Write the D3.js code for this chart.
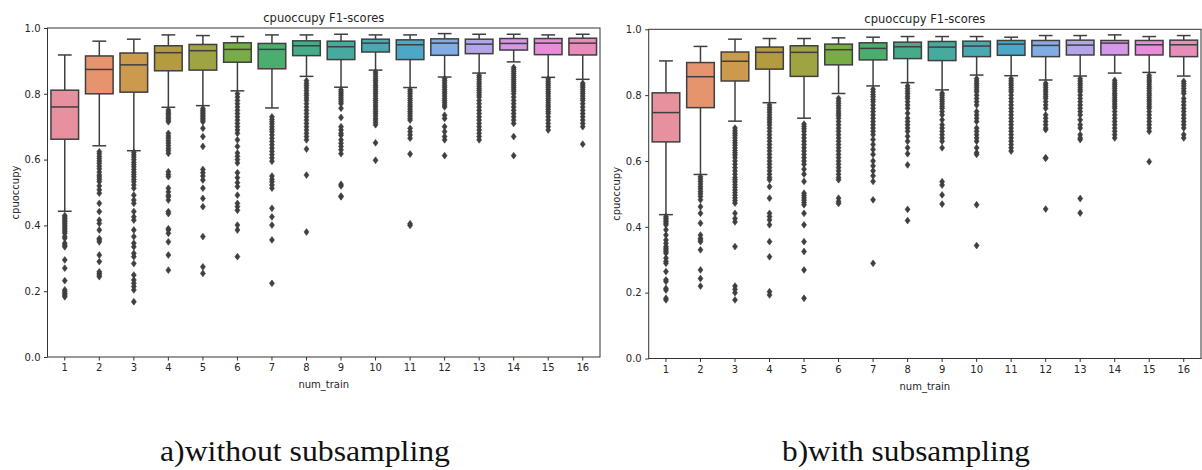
<!DOCTYPE html>
<html>
<head>
<meta charset="utf-8">
<script src="https://cdn.jsdelivr.net/npm/d3@7"></script>
<style>
  html, body { margin: 0; padding: 0; background: #fff; }
  svg { display: block; }
</style>
</head>
<body>
<div id="chart"></div>
<script>
// num_train categories, shared by both panels
const categories = ["1","2","3","4","5","6","7","8","9","10","11","12","13","14","15","16"];
const yTicks = [0, 0.2, 0.4, 0.6, 0.8, 1.0];

// a) without subsampling
const aWhiskHi = [0.918,0.960,0.966,0.979,0.977,0.974,0.979,0.979,0.981,0.979,0.979,0.983,0.981,0.981,0.979,0.981];
const aQ3      = [0.811,0.915,0.924,0.946,0.950,0.955,0.953,0.961,0.960,0.966,0.964,0.967,0.966,0.968,0.968,0.969];
const aMedian  = [0.760,0.874,0.888,0.925,0.931,0.935,0.935,0.946,0.943,0.954,0.949,0.954,0.951,0.953,0.954,0.954];
const aQ1      = [0.662,0.800,0.805,0.870,0.872,0.896,0.876,0.916,0.904,0.927,0.904,0.917,0.922,0.933,0.919,0.918];
const aWhiskLo = [0.443,0.642,0.627,0.759,0.764,0.809,0.757,0.853,0.820,0.872,0.819,0.851,0.863,0.897,0.850,0.844];
const aOutliers = [
  [0.43,0.426,0.421,0.416,0.411,0.406,0.401,0.396,0.391,0.386,0.381,0.376,0.366,0.361,0.346,0.340,0.335,0.295,0.270,0.232,0.204,0.198,0.193,0.188,0.183],
  [0.624,0.618,0.610,0.603,0.596,0.589,0.580,0.572,0.562,0.553,0.547,0.540,0.533,0.520,0.508,0.498,0.467,0.442,0.416,0.406,0.386,0.360,0.356,0.350,0.310,0.290,0.259,0.254,0.249,0.244],
  [0.622,0.615,0.608,0.600,0.592,0.585,0.578,0.570,0.562,0.555,0.548,0.540,0.533,0.523,0.513,0.492,0.477,0.467,0.442,0.426,0.416,0.386,0.366,0.346,0.335,0.315,0.305,0.284,0.249,0.234,0.224,0.214,0.204,0.168],
  [0.751,0.745,0.740,0.736,0.730,0.725,0.720,0.715,0.680,0.672,0.665,0.657,0.650,0.642,0.634,0.627,0.619,0.563,0.555,0.548,0.513,0.502,0.492,0.487,0.477,0.442,0.436,0.390,0.386,0.376,0.350,0.310,0.264],
  [0.755,0.750,0.745,0.740,0.735,0.730,0.725,0.720,0.715,0.695,0.670,0.640,0.570,0.560,0.550,0.538,0.513,0.482,0.457,0.366,0.274,0.254],
  [0.800,0.790,0.780,0.770,0.760,0.750,0.740,0.730,0.720,0.710,0.700,0.690,0.680,0.660,0.640,0.620,0.610,0.600,0.590,0.560,0.545,0.530,0.518,0.492,0.467,0.457,0.446,0.401,0.386,0.305],
  [0.730,0.722,0.715,0.708,0.700,0.692,0.685,0.675,0.665,0.655,0.645,0.635,0.625,0.615,0.605,0.595,0.550,0.540,0.533,0.523,0.513,0.452,0.426,0.401,0.356,0.224],
  [0.840,0.832,0.825,0.818,0.810,0.802,0.795,0.787,0.780,0.770,0.760,0.750,0.740,0.730,0.720,0.710,0.700,0.690,0.680,0.670,0.660,0.632,0.553,0.380],
  [0.812,0.806,0.800,0.794,0.788,0.782,0.776,0.770,0.756,0.728,0.700,0.690,0.680,0.674,0.660,0.650,0.640,0.630,0.618,0.525,0.520,0.489,0.487],
  [0.866,0.860,0.853,0.846,0.840,0.833,0.826,0.820,0.813,0.806,0.800,0.793,0.786,0.780,0.773,0.766,0.760,0.753,0.746,0.740,0.733,0.726,0.720,0.713,0.706,0.651,0.598],
  [0.812,0.806,0.800,0.793,0.786,0.780,0.773,0.766,0.760,0.753,0.746,0.740,0.733,0.726,0.720,0.695,0.685,0.675,0.665,0.617,0.405,0.400],
  [0.846,0.840,0.833,0.826,0.820,0.813,0.806,0.800,0.793,0.786,0.780,0.773,0.766,0.760,0.735,0.725,0.700,0.685,0.670,0.660,0.612],
  [0.856,0.850,0.843,0.836,0.830,0.823,0.816,0.810,0.803,0.796,0.790,0.780,0.770,0.760,0.750,0.740,0.730,0.720,0.710,0.700,0.690,0.680,0.670,0.660],
  [0.880,0.874,0.868,0.862,0.856,0.850,0.844,0.838,0.832,0.826,0.820,0.814,0.808,0.800,0.790,0.780,0.770,0.760,0.750,0.740,0.730,0.720,0.710,0.670,0.612],
  [0.845,0.838,0.832,0.826,0.820,0.813,0.806,0.800,0.793,0.786,0.780,0.773,0.766,0.760,0.753,0.746,0.740,0.730,0.720,0.710,0.700,0.690],
  [0.832,0.826,0.820,0.813,0.806,0.800,0.793,0.786,0.780,0.770,0.760,0.750,0.740,0.730,0.720,0.710,0.700,0.647]
];

// b) with subsampling
const bWhiskHi = [0.904,0.948,0.970,0.972,0.972,0.974,0.976,0.978,0.978,0.978,0.976,0.981,0.981,0.983,0.978,0.981];
const bQ3      = [0.807,0.899,0.931,0.946,0.950,0.955,0.959,0.961,0.963,0.964,0.966,0.966,0.967,0.966,0.966,0.967];
const bMedian  = [0.747,0.856,0.903,0.930,0.930,0.938,0.942,0.947,0.946,0.949,0.955,0.951,0.952,0.958,0.953,0.953];
const bQ1      = [0.658,0.762,0.843,0.879,0.857,0.892,0.907,0.911,0.905,0.917,0.921,0.917,0.922,0.922,0.922,0.917];
const bWhiskLo = [0.437,0.559,0.721,0.777,0.730,0.805,0.828,0.838,0.816,0.861,0.859,0.846,0.858,0.867,0.869,0.858];
const bOutliers = [
  [0.431,0.426,0.421,0.416,0.411,0.406,0.391,0.375,0.360,0.350,0.340,0.335,0.330,0.325,0.320,0.305,0.295,0.289,0.264,0.239,0.234,0.213,0.208,0.183,0.178],
  [0.552,0.545,0.538,0.530,0.522,0.515,0.507,0.500,0.492,0.482,0.461,0.441,0.411,0.375,0.365,0.360,0.355,0.330,0.269,0.243,0.220],
  [0.700,0.692,0.685,0.678,0.670,0.662,0.655,0.648,0.640,0.632,0.625,0.618,0.610,0.600,0.590,0.580,0.570,0.560,0.550,0.543,0.536,0.528,0.520,0.512,0.504,0.496,0.488,0.480,0.472,0.441,0.425,0.415,0.340,0.220,0.210,0.200,0.178],
  [0.770,0.762,0.755,0.748,0.740,0.732,0.725,0.718,0.710,0.700,0.690,0.680,0.670,0.660,0.650,0.640,0.630,0.620,0.610,0.600,0.590,0.580,0.570,0.560,0.550,0.543,0.522,0.487,0.441,0.431,0.421,0.406,0.355,0.309,0.203,0.193],
  [0.712,0.705,0.698,0.690,0.680,0.670,0.660,0.650,0.640,0.630,0.620,0.610,0.600,0.590,0.575,0.560,0.538,0.502,0.495,0.488,0.481,0.474,0.467,0.441,0.406,0.355,0.325,0.269,0.183],
  [0.790,0.782,0.775,0.768,0.760,0.752,0.745,0.738,0.730,0.720,0.710,0.700,0.690,0.680,0.670,0.660,0.650,0.640,0.630,0.620,0.610,0.600,0.590,0.580,0.570,0.560,0.550,0.543,0.487,0.477,0.471],
  [0.818,0.810,0.802,0.795,0.787,0.780,0.770,0.760,0.750,0.740,0.730,0.720,0.710,0.700,0.690,0.680,0.665,0.650,0.635,0.620,0.600,0.585,0.570,0.555,0.538,0.482,0.289],
  [0.828,0.820,0.812,0.805,0.797,0.790,0.780,0.770,0.760,0.745,0.730,0.720,0.710,0.700,0.690,0.675,0.660,0.640,0.622,0.588,0.453,0.419],
  [0.806,0.800,0.793,0.786,0.780,0.773,0.766,0.760,0.750,0.740,0.725,0.710,0.700,0.690,0.680,0.670,0.660,0.640,0.537,0.527,0.497,0.469],
  [0.850,0.843,0.836,0.830,0.823,0.816,0.810,0.800,0.790,0.780,0.770,0.750,0.740,0.730,0.720,0.700,0.690,0.680,0.670,0.660,0.640,0.625,0.620,0.467,0.343],
  [0.850,0.843,0.836,0.830,0.823,0.816,0.810,0.800,0.790,0.780,0.770,0.760,0.750,0.740,0.730,0.720,0.710,0.700,0.690,0.680,0.670,0.660,0.650,0.640,0.630],
  [0.836,0.830,0.823,0.816,0.810,0.803,0.796,0.790,0.780,0.770,0.760,0.740,0.730,0.720,0.710,0.700,0.695,0.610,0.608,0.454],
  [0.850,0.843,0.836,0.830,0.823,0.816,0.810,0.800,0.790,0.780,0.770,0.760,0.750,0.740,0.725,0.710,0.700,0.680,0.670,0.665,0.486,0.442],
  [0.845,0.838,0.832,0.826,0.820,0.813,0.806,0.800,0.793,0.786,0.780,0.773,0.766,0.760,0.750,0.740,0.730,0.720,0.710,0.700,0.690,0.680,0.670],
  [0.860,0.853,0.846,0.840,0.833,0.826,0.820,0.813,0.806,0.800,0.793,0.786,0.780,0.773,0.766,0.760,0.750,0.740,0.730,0.720,0.710,0.700,0.690,0.598],
  [0.842,0.835,0.828,0.820,0.812,0.805,0.790,0.780,0.770,0.760,0.750,0.740,0.730,0.720,0.710,0.700,0.680,0.670]
];

// seaborn-like husl palette (desaturated)
const palette = ["#e8919e","#e6946e","#cc9a4c","#b49b3e","#9ea441","#78ac44","#4aae6e","#46ab8b","#47aa9e","#49a9b1","#4ca8c8","#82ace4","#b3a5e8","#d797e8","#e98cd9","#e98cb9"];

const W = 1202, H = 470;
const lineColor = "#3f3f3f";
const textColor = "#262626";

const svg = d3.select("#chart").append("svg")
  .attr("width", W).attr("height", H)
  .attr("font-family", "'DejaVu Sans', sans-serif");

function drawPanel(p) {
  const x = d3.scaleBand().domain(categories).range([p.left, p.right]);
  const y = d3.scaleLinear().domain([0, 1]).range([p.bottom, p.top]);
  const g = svg.append("g");
  const boxW = x.bandwidth() * 0.8;
  const capW = boxW * 0.5;

  const rows = categories.map((c, i) => ({
    c, i, hi: p.hi[i], q3: p.q3[i], med: p.med[i], q1: p.q1[i], lo: p.lo[i], out: p.out[i]
  }));

  const box = g.selectAll(".box").data(rows).enter().append("g").attr("class", "box")
    .attr("transform", d => `translate(${x(d.c) + x.bandwidth() / 2},0)`);

  // whiskers + caps
  box.append("line").attr("x1", 0).attr("x2", 0)
    .attr("y1", d => y(d.q3)).attr("y2", d => y(d.hi))
    .attr("stroke", lineColor).attr("stroke-width", 1.5);
  box.append("line").attr("x1", 0).attr("x2", 0)
    .attr("y1", d => y(d.q1)).attr("y2", d => y(d.lo))
    .attr("stroke", lineColor).attr("stroke-width", 1.5);
  box.append("line").attr("x1", -capW / 2).attr("x2", capW / 2)
    .attr("y1", d => y(d.hi)).attr("y2", d => y(d.hi))
    .attr("stroke", lineColor).attr("stroke-width", 1.5);
  box.append("line").attr("x1", -capW / 2).attr("x2", capW / 2)
    .attr("y1", d => y(d.lo)).attr("y2", d => y(d.lo))
    .attr("stroke", lineColor).attr("stroke-width", 1.5);

  // boxes
  box.append("rect")
    .attr("x", -boxW / 2).attr("width", boxW)
    .attr("y", d => y(d.q3)).attr("height", d => y(d.q1) - y(d.q3))
    .attr("fill", d => palette[d.i])
    .attr("stroke", lineColor).attr("stroke-width", 1.5);
  box.append("line").attr("x1", -boxW / 2).attr("x2", boxW / 2)
    .attr("y1", d => y(d.med)).attr("y2", d => y(d.med))
    .attr("stroke", lineColor).attr("stroke-width", 1.5);

  // outliers (thin diamonds)
  box.selectAll(".flier").data(d => d.out).enter().append("path")
    .attr("class", "flier")
    .attr("d", "M0,-3.4L2.5,0L0,3.4L-2.5,0Z")
    .attr("transform", v => `translate(0,${y(v)})`)
    .attr("fill", lineColor).attr("stroke", lineColor).attr("stroke-width", 0.6);

  // axes
  const xAxis = g.append("g").attr("transform", `translate(0,${p.bottom})`)
    .call(d3.axisBottom(x).tickSize(3.5).tickPadding(3.5));
  const yAxis = g.append("g").attr("transform", `translate(${p.left},0)`)
    .call(d3.axisLeft(y).tickValues(yTicks).tickFormat(d3.format(".1f")).tickSize(3.5).tickPadding(3.5));
  [xAxis, yAxis].forEach(a => {
    a.select(".domain").remove();
    a.selectAll("line").attr("stroke", "#333");
    a.selectAll("text").attr("fill", textColor).attr("font-size", 10)
      .attr("font-family", "'DejaVu Sans', sans-serif");
  });

  // frame
  g.append("rect").attr("x", p.left).attr("y", p.top)
    .attr("width", p.right - p.left).attr("height", p.bottom - p.top)
    .attr("fill", "none").attr("stroke", "#333").attr("stroke-width", 1);

  g.append("text").attr("x", (p.left + p.right) / 2).attr("y", p.top - 6)
    .attr("text-anchor", "middle").attr("font-size", 12.5).attr("fill", textColor)
    .attr("textLength", 121).attr("lengthAdjust", "spacingAndGlyphs")
    .text("cpuoccupy F1-scores");
  g.append("text").attr("x", (p.left + p.right) / 2).attr("y", p.bottom + 31)
    .attr("text-anchor", "middle").attr("font-size", 10).attr("fill", textColor)
    .text("num_train");
  g.append("text")
    .attr("transform", `translate(${p.left - 29},${(p.top + p.bottom) / 2}) rotate(-90)`)
    .attr("text-anchor", "middle").attr("font-size", 10).attr("fill", textColor)
    .text("cpuoccupy");

  svg.append("text").attr("x", p.capX).attr("y", 461)
    .attr("text-anchor", "middle")
    .attr("font-family", "'Liberation Serif', 'DejaVu Serif', serif")
    .attr("font-size", 30).attr("fill", "#111")
    .attr("textLength", p.capW).attr("lengthAdjust", "spacingAndGlyphs")
    .text(p.caption);
}

drawPanel({ left: 47.5, right: 600, top: 28, bottom: 357,
  hi: aWhiskHi, q3: aQ3, med: aMedian, q1: aQ1, lo: aWhiskLo, out: aOutliers,
  caption: "a)without subsampling", capX: 305, capW: 290 });
drawPanel({ left: 648.7, right: 1201, top: 29.3, bottom: 358.5,
  hi: bWhiskHi, q3: bQ3, med: bMedian, q1: bQ1, lo: bWhiskLo, out: bOutliers,
  caption: "b)with subsampling", capX: 906, capW: 248 });
</script>
</body>
</html>
